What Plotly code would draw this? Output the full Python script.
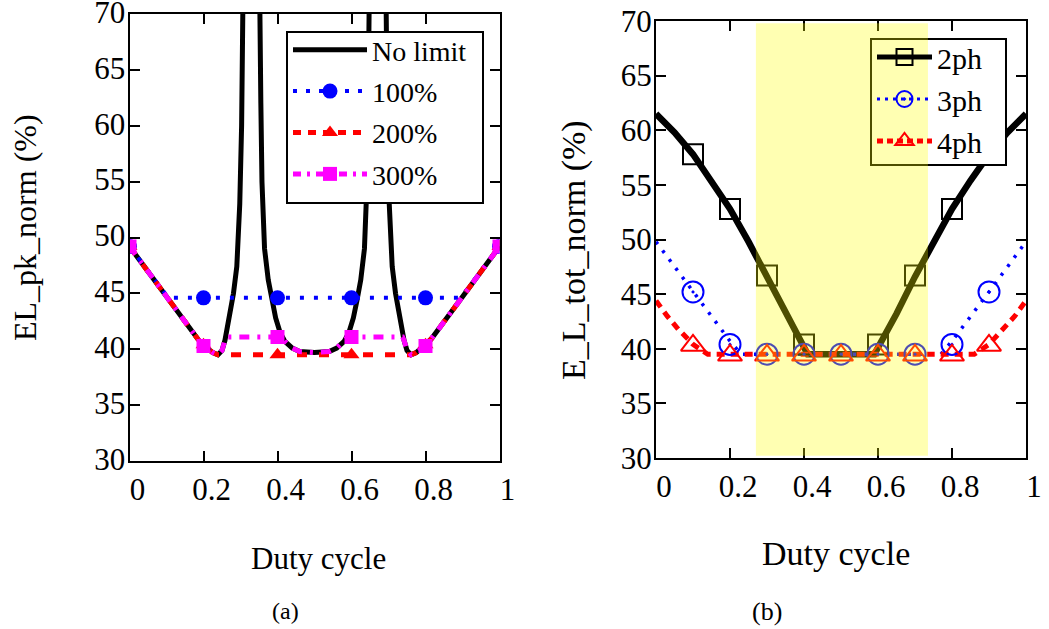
import plotly.graph_objects as go

W, H = 1049, 629
FONT = "Liberation Serif"

# ---------------- Panel (a) data ----------------
mark_x_a = [0, 0.2, 0.4, 0.6, 0.8, 1.0]

nolimit_x = [0, 0.1, 0.185, 0.21, 0.225, 0.239, 0.25, 0.258, 0.265, 0.272, 0.281, 0.29, 0.298, 0.303, 0.307, 0.311, None,
             0.343, 0.348, 0.352, 0.355, 0.358, 0.365, 0.375, 0.385, 0.395, 0.407, 0.42, 0.44, 0.46, 0.5,
             0.54, 0.56, 0.58, 0.593, 0.605, 0.615, 0.625, 0.635, 0.642, 0.645, 0.648, 0.652, 0.657, None,
             0.689, 0.693, 0.697, 0.702, 0.71, 0.719, 0.728, 0.735, 0.742, 0.75, 0.761, 0.775, 0.79, 0.815, 0.9, 1.0]
nolimit_y = [49.2, 44.7, 40.9, 40.1, 39.7, 39.5, 39.9, 40.8, 42.0, 43.3, 45.0, 47.4, 53, 60, 70, 85, None,
             100, 80, 70, 62, 55, 49, 46.2, 44.4, 42.8, 41.5, 40.7, 40.1, 39.8, 39.7,
             39.8, 40.1, 40.7, 41.5, 42.8, 44.4, 46.2, 49, 55, 62, 70, 80, 100, None,
             85, 70, 60, 53, 47.4, 45.0, 43.3, 42.0, 40.8, 39.9, 39.5, 39.7, 40.1, 40.9, 44.7, 49.2]

lim100_x = [0, 0.105, 0.895, 1.0]
lim100_y = [49.2, 44.6, 44.6, 49.2]
lim100_mark_y = [49.2, 44.6, 44.6, 44.6, 44.6, 49.2]

lim200_x = [0, 0.1, 0.185, 0.21, 0.225, 0.239, 0.761, 0.775, 0.79, 0.815, 0.9, 1.0]
lim200_y = [49.2, 44.7, 40.9, 40.1, 39.7, 39.5, 39.5, 39.7, 40.1, 40.9, 44.7, 49.2]
lim200_mark_y = [49.2, 40.4, 39.5, 39.5, 40.4, 49.2]

lim300_x = [0, 0.1, 0.185, 0.21, 0.225, 0.239, 0.25, 0.258, 0.262, 0.41, 0.42, 0.44, 0.46, 0.5,
            0.54, 0.56, 0.58, 0.59, 0.738, 0.742, 0.75, 0.761, 0.775, 0.79, 0.815, 0.9, 1.0]
lim300_y = [49.2, 44.7, 40.9, 40.1, 39.7, 39.5, 39.9, 40.8, 41.1, 41.1, 40.7, 40.1, 39.8, 39.7,
            39.8, 40.1, 40.7, 41.1, 41.1, 40.8, 39.9, 39.5, 39.7, 40.1, 40.9, 44.7, 49.2]
lim300_mark_y = [49.2, 40.3, 41.1, 41.1, 40.3, 49.2]

# ---------------- Panel (b) data ----------------
ph2_x = [0, 0.05, 0.1, 0.15, 0.2, 0.25, 0.3, 0.35, 0.41, 0.59, 0.65, 0.7, 0.75, 0.8, 0.85, 0.9, 0.95, 1.0]
ph2_y = [61.5, 59.8, 57.8, 55.4, 52.8, 49.8, 46.6, 43.2, 39.5, 39.5, 43.2, 46.6, 49.8, 52.8, 55.4, 57.8, 59.8, 61.5]
ph2_mark_x = [0.1, 0.2, 0.3, 0.4, 0.6, 0.7, 0.8, 0.9]
ph2_mark_y = [57.8, 52.8, 46.7, 40.4, 40.4, 46.7, 52.8, 57.8]

ph3_x = [0, 0.05, 0.1, 0.15, 0.2, 0.23, 0.77, 0.8, 0.85, 0.9, 0.95, 1.0]
ph3_y = [49.8, 47.5, 45.2, 42.9, 40.7, 39.5, 39.5, 40.7, 42.9, 45.2, 47.5, 49.8]
ph3_mark_x = [0.1, 0.2, 0.3, 0.4, 0.5, 0.6, 0.7, 0.8, 0.9]
ph3_mark_y = [45.2, 40.4, 39.5, 39.5, 39.5, 39.5, 39.5, 40.4, 45.2]

ph4_x = [0, 0.03, 0.06, 0.1, 0.14, 0.86, 0.9, 0.94, 0.97, 1.0]
ph4_y = [44.4, 43.0, 41.8, 40.4, 39.5, 39.5, 40.4, 41.8, 43.0, 44.4]
ph4_mark_x = [0.1, 0.2, 0.3, 0.4, 0.5, 0.6, 0.7, 0.8, 0.9]
ph4_mark_y = [40.3, 39.4, 39.4, 39.4, 39.4, 39.4, 39.4, 39.4, 40.3]

band_b = [0.27, 0.735]

x_ticks = [0, 0.2, 0.4, 0.6, 0.8, 1]
y_ticks = [30, 35, 40, 45, 50, 55, 60, 65, 70]

fig = go.Figure()

def px_x(p):
    return p / W

def px_y(p):
    return 1 - p / H

# ---- panel (a) traces ----
A = dict(xaxis="x", yaxis="y")
fig.add_trace(go.Scatter(x=nolimit_x, y=nolimit_y, mode="lines", line=dict(color="black", width=5),
                         showlegend=False, **A))
fig.add_trace(go.Scatter(x=lim100_x, y=lim100_y, mode="lines",
                         line=dict(color="#0000FF", width=4, dash="4px,10px"), showlegend=False, **A))
fig.add_trace(go.Scatter(x=lim200_x, y=lim200_y, mode="lines",
                         line=dict(color="#FF0000", width=5, dash="10px,12px"), showlegend=False, **A))
fig.add_trace(go.Scatter(x=lim300_x, y=lim300_y, mode="lines",
                         line=dict(color="#FF00FF", width=5, dash="10px,8px,3px,8px"), showlegend=False, **A))
fig.add_trace(go.Scatter(x=mark_x_a, y=lim100_mark_y, mode="markers",
                         marker=dict(symbol="circle", size=15, color="#0000FF"), showlegend=False, **A))
fig.add_trace(go.Scatter(x=mark_x_a, y=lim200_mark_y, mode="markers",
                         marker=dict(symbol="triangle-up", size=14, color="#FF0000"), showlegend=False, **A))
fig.add_trace(go.Scatter(x=mark_x_a, y=lim300_mark_y, mode="markers",
                         marker=dict(symbol="square", size=14, color="#FF00FF"), showlegend=False, **A))

# legend entries (a)
leg_a = [
    ("No limit", dict(color="black", width=5), None),
    ("100%", dict(color="#0000FF", width=4, dash="4px,9px"), dict(symbol="circle", size=15, color="#0000FF")),
    ("200%", dict(color="#FF0000", width=5, dash="8px,7px"), dict(symbol="triangle-up", size=14, color="#FF0000")),
    ("300%", dict(color="#FF00FF", width=5, dash="8px,6px,3px,6px"), dict(symbol="square", size=14, color="#FF00FF")),
]
for i, (name, ln, mk) in enumerate(leg_a):
    fig.add_trace(go.Scatter(x=[None], y=[None], name=name, mode="lines" if mk is None else "lines+markers",
                             line=ln, marker=mk, legend="legend", legendgroup="a%d" % i, **A))

# ---- panel (b) traces ----
B = dict(xaxis="x2", yaxis="y2")
fig.add_trace(go.Scatter(x=ph2_x, y=ph2_y, mode="lines", line=dict(color="black", width=6.5),
                         showlegend=False, **B))
fig.add_trace(go.Scatter(x=ph3_x, y=ph3_y, mode="lines",
                         line=dict(color="#0000FF", width=3.5, dash="3px,8px"), showlegend=False, **B))
fig.add_trace(go.Scatter(x=ph4_x, y=ph4_y, mode="lines",
                         line=dict(color="#FF0000", width=5, dash="8px,6px"), showlegend=False, **B))
fig.add_trace(go.Scatter(x=ph2_mark_x, y=ph2_mark_y, mode="markers",
                         marker=dict(symbol="square-open", size=20, color="black", line=dict(width=2)),
                         showlegend=False, **B))
fig.add_trace(go.Scatter(x=ph3_mark_x, y=ph3_mark_y, mode="markers",
                         marker=dict(symbol="circle-open-dot", size=21, color="#0000FF", line=dict(width=2)),
                         showlegend=False, **B))
fig.add_trace(go.Scatter(x=ph4_mark_x, y=ph4_mark_y, mode="markers",
                         marker=dict(symbol="triangle-up-open", size=21, color="#FF0000", line=dict(width=2)),
                         showlegend=False, **B))

leg_b = [
    ("2ph", dict(color="black", width=5), dict(symbol="square-open", size=16, color="black", line=dict(width=2))),
    ("3ph", dict(color="#0000FF", width=3, dash="3px,5px"), dict(symbol="circle-open-dot", size=16, color="#0000FF", line=dict(width=2))),
    ("4ph", dict(color="#FF0000", width=5, dash="6px,4px"), dict(symbol="triangle-up-open", size=16, color="#FF0000", line=dict(width=2))),
]
for i, (name, ln, mk) in enumerate(leg_b):
    fig.add_trace(go.Scatter(x=[None], y=[None], name=name, mode="lines+markers",
                             line=ln, marker=mk, legend="legend2", legendgroup="b%d" % i, **B))

axis_common = dict(showline=True, linecolor="black", linewidth=2, mirror="ticks", ticks="inside",
                   ticklen=10, tickwidth=2, tickcolor="black", showgrid=False, zeroline=False,
                   ticklabeloverflow="allow",
                   tickfont=dict(family=FONT, size=31, color="black"))

fig.update_layout(
    width=W, height=H, margin=dict(l=0, r=0, t=0, b=0, autoexpand=False),
    paper_bgcolor="white", plot_bgcolor="white",
    font=dict(family=FONT, color="black"),
    xaxis=dict(domain=[px_x(129.5), px_x(499.5)], range=[0, 1], tickvals=x_ticks, ticklabelshift=8,
               anchor="y", **axis_common),
    yaxis=dict(domain=[px_y(461), px_y(14)], range=[30, 70], tickvals=y_ticks, anchor="x",
               ticklabelstandoff=-4, ticklabelshift=-2, **axis_common),
    xaxis2=dict(domain=[px_x(656), px_x(1026)], range=[0, 1], tickvals=x_ticks, ticklabelshift=8,
                anchor="y2", **axis_common),
    yaxis2=dict(domain=[px_y(458), px_y(21)], range=[30, 70], tickvals=y_ticks, anchor="x2",
                ticklabelstandoff=-4, **axis_common),
    legend=dict(x=px_x(288), y=px_y(25), xanchor="left", yanchor="top", bgcolor="rgba(0,0,0,0)",
                borderwidth=0, font=dict(family=FONT, size=28, color="black"), itemwidth=74,
                tracegroupgap=2),
    legend2=dict(x=px_x(872), y=px_y(31), xanchor="left", yanchor="top", bgcolor="rgba(0,0,0,0)",
                 borderwidth=0, font=dict(family=FONT, size=30, color="black"), itemwidth=55,
                 tracegroupgap=0),
    shapes=[
        # legend box (a)
        dict(type="rect", xref="paper", yref="paper", x0=px_x(287), x1=px_x(483), y0=px_y(203), y1=px_y(32),
             fillcolor="white", line=dict(color="black", width=2), layer="above"),
        # legend box (b)
        dict(type="rect", xref="paper", yref="paper", x0=px_x(871), x1=px_x(1006), y0=px_y(165), y1=px_y(39),
             fillcolor="white", line=dict(color="black", width=2), layer="above"),
        # highlighted band (b)
        dict(type="rect", xref="x2", yref="y2", x0=band_b[0], x1=band_b[1], y0=30.2, y1=69.8,
             fillcolor="rgba(255,255,0,0.3)", line=dict(width=0), layer="above"),
    ],
    annotations=[
        dict(text="EL_pk_norm (%)", xref="paper", yref="paper", x=px_x(25), y=px_y(228), textangle=-90,
             showarrow=False, font=dict(family=FONT, size=32), xanchor="center", yanchor="middle"),
        dict(text="E_L_tot_norm (%)", xref="paper", yref="paper", x=px_x(574), y=px_y(250), textangle=-90,
             showarrow=False, font=dict(family=FONT, size=34), xanchor="center", yanchor="middle"),
        dict(text="Duty cycle", xref="paper", yref="paper", x=px_x(318), y=px_y(558),
             showarrow=False, font=dict(family=FONT, size=31), xanchor="center", yanchor="middle"),
        dict(text="Duty cycle", xref="paper", yref="paper", x=px_x(836), y=px_y(553),
             showarrow=False, font=dict(family=FONT, size=34), xanchor="center", yanchor="middle"),
        dict(text="(a)", xref="paper", yref="paper", x=px_x(285), y=px_y(611),
             showarrow=False, font=dict(family=FONT, size=24), xanchor="center", yanchor="middle"),
        dict(text="(b)", xref="paper", yref="paper", x=px_x(767), y=px_y(611),
             showarrow=False, font=dict(family=FONT, size=26), xanchor="center", yanchor="middle"),
    ],
)

fig.write_html("out.html", config={"displayModeBar": False},
               post_script="document.body.style.margin='0';document.body.style.padding='0';"
                           "document.body.style.overflow='hidden';")
